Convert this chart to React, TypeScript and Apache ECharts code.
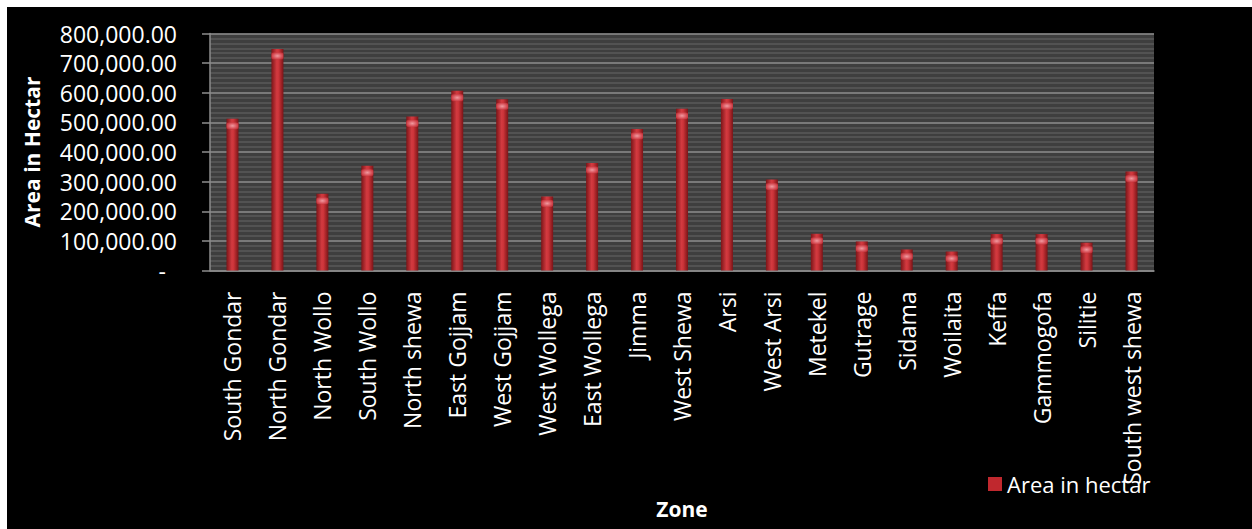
import React, { useEffect, useRef } from "react";
import * as echarts from "echarts";

// Zones along the category axis
const zones = [
  "South Gondar",
  "North Gondar",
  "North Wollo",
  "South Wollo",
  "North shewa",
  "East Gojjam",
  "West Gojjam",
  "West Wollega",
  "East Wollega",
  "Jimma",
  "West Shewa",
  "Arsi",
  "West Arsi",
  "Metekel",
  "Gutrage",
  "Sidama",
  "Woilaita",
  "Keffa",
  "Gammogofa",
  "Silitie",
  "South west shewa",
];

// Area in hectar per zone
const areaInHectar = [
  512000, 748000, 259000, 354000, 520000, 607000, 578000, 250000, 363000,
  478000, 546000, 579000, 307000, 124000, 98000, 71000, 64000, 123000,
  123000, 94000, 334000,
];

// Value axis range
const yMin = 0;
const yMax = 800000;
const yStep = 100000;

const seriesName = "Area in hectar";
const FONT = "'Open Sans', sans-serif";

function formatAccounting(v: number): string {
  if (v === 0) return "{z|-}";
  return v.toLocaleString("en-US", {
    minimumFractionDigits: 2,
    maximumFractionDigits: 2,
  });
}

export default function App() {
  const ref = useRef<HTMLDivElement>(null);

  useEffect(() => {
    document.body.style.margin = "0";
    if (!ref.current) return;
    const chart = echarts.init(ref.current, undefined, { renderer: "svg" });

    const barFill = new echarts.graphic.LinearGradient(0, 0, 1, 0, [
      { offset: 0, color: "#7c1518" },
      { offset: 0.45, color: "#d23a40" },
      { offset: 0.6, color: "#cc3439" },
      { offset: 1, color: "#7a1417" },
    ]);
    const capFill = new echarts.graphic.RadialGradient(0.5, 0.5, 0.6, [
      { offset: 0, color: "#f09aa0" },
      { offset: 0.6, color: "#d8525a" },
      { offset: 1, color: "#bb2a31" },
    ]);

    chart.setOption({
      animation: false,
      backgroundColor: "#000000",
      textStyle: { fontFamily: FONT },
      grid: {
        left: 203,
        top: 26.5,
        width: 944,
        height: 237,
        show: true,
        backgroundColor: "#3e3e3e",
        borderWidth: 0,
        containLabel: false,
      },
      legend: {
        data: [{ name: seriesName, itemStyle: { color: "#c0282e" } }],
        left: 976,
        top: 461,
        icon: "rect",
        itemWidth: 14,
        itemHeight: 14,
        itemGap: 6,
        textStyle: { color: "#ffffff", fontSize: 22, fontFamily: FONT },
      },
      xAxis: {
        type: "category",
        data: zones,
        name: "Zone",
        nameLocation: "middle",
        nameGap: 228,
        nameTextStyle: {
          color: "#ffffff",
          fontSize: 21,
          fontWeight: "bold",
          fontFamily: FONT,
        },
        axisLine: { show: true, lineStyle: { color: "#8c8c8c", width: 1.5 } },
        axisTick: { show: false },
        axisLabel: {
          rotate: 90,
          interval: 0,
          margin: 21,
          color: "#ffffff",
          fontSize: 23,
          fontFamily: FONT,
        },
        splitLine: { show: false },
      },
      yAxis: {
        type: "value",
        min: yMin,
        max: yMax,
        interval: yStep,
        name: "Area in Hectar",
        nameLocation: "middle",
        nameRotate: 90,
        nameGap: 168,
        nameTextStyle: {
          color: "#ffffff",
          fontSize: 21,
          fontWeight: "bold",
          fontFamily: FONT,
        },
        axisLine: { show: true, lineStyle: { color: "#8c8c8c", width: 1.5 } },
        axisTick: {
          show: true,
          length: 8,
          lineStyle: { color: "#8c8c8c", width: 1.5 },
        },
        minorTick: { show: false, splitNumber: 6 },
        minorSplitLine: {
          show: true,
          lineStyle: { color: "#5a5a5a", width: 1.5 },
        },
        splitLine: {
          show: true,
          lineStyle: { color: "#8e8e8e", width: 1.5 },
        },
        axisLabel: {
          margin: 33,
          color: "#ffffff",
          fontSize: 23,
          fontFamily: FONT,
          formatter: formatAccounting,
          rich: {
            z: {
              color: "#ffffff",
              fontSize: 23,
              fontFamily: FONT,
              padding: [0, 11, 0, 0],
            },
          },
        },
      },
      series: [
        {
          name: seriesName,
          type: "bar",
          data: areaInHectar,
          barWidth: 12,
          itemStyle: { color: barFill },
          z: 3,
        },
        {
          name: "cap",
          type: "pictorialBar",
          data: areaInHectar,
          symbol: "roundRect",
          symbolSize: [12, 7],
          symbolPosition: "end",
          symbolOffset: [0, "50%"],
          itemStyle: { color: capFill },
          barGap: "-100%",
          z: 4,
          silent: true,
        },
      ],
    });

    return () => chart.dispose();
  }, []);

  return (
    <div
      style={{
        width: 1252,
        height: 529,
        background: "#ffffff",
        position: "relative",
      }}
    >
      <div
        ref={ref}
        style={{
          position: "absolute",
          left: 7,
          top: 7,
          width: 1245,
          height: 522,
          background: "#000000",
        }}
      />
    </div>
  );
}
